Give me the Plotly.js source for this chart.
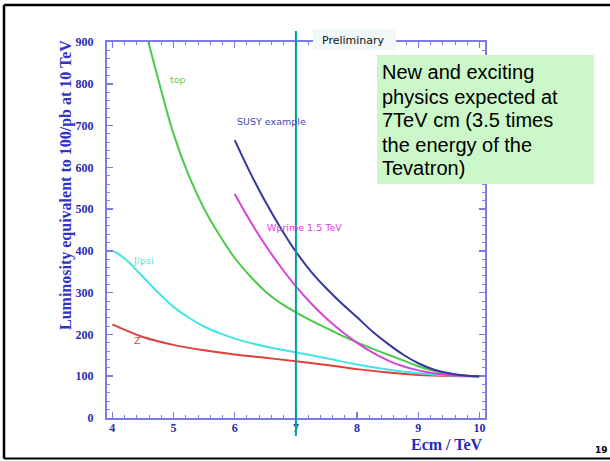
<!DOCTYPE html>
<html>
<head>
<meta charset="utf-8">
<script src="https://cdn.plot.ly/plotly-3.0.1.min.js"></script>
<style>html,body{margin:0;padding:0;background:#fff;}#chart{width:610px;height:461px;}</style>
</head>
<body>
<div id="chart"></div>
<script>
// ---- data ----
const topX   = [4.59, 4.75, 5.0, 5.25, 5.5, 5.75, 6.0, 6.25, 6.5, 6.75, 7.0, 7.25, 7.5, 7.75, 8.0, 8.25, 8.5, 8.75, 9.0, 9.25, 9.5, 9.75, 10];
const topY   = [900, 811, 680, 580, 501, 438, 383, 340, 303, 275, 253, 233, 215, 197, 181, 166, 152, 138, 124, 113, 106, 102, 100];
const susyX  = [6.0, 6.25, 6.5, 6.75, 7.0, 7.25, 7.5, 7.75, 8.0, 8.25, 8.5, 8.75, 9.0, 9.25, 9.5, 9.75, 10];
const susyY  = [665, 588, 518, 455, 398, 350, 310, 274, 241, 207, 178, 152, 131, 116, 107, 102, 100];
const wpX    = [6.0, 6.25, 6.5, 6.75, 7.0, 7.25, 7.5, 7.75, 8.0, 8.25, 8.5, 8.75, 9.0, 9.25, 9.5, 9.75, 10];
const wpY    = [536, 472, 414, 362, 315, 274, 238, 207, 180, 157, 138, 124, 114, 107, 103, 101, 100];
const jpsiX  = [4.0, 4.1, 4.25, 4.5, 4.75, 5.0, 5.25, 5.5, 5.75, 6.0, 6.5, 7.0, 7.5, 8.0, 8.5, 9.0, 9.5, 10];
const jpsiY  = [400, 393, 375, 338, 300, 266, 240, 219, 203, 190, 171, 157, 143, 128, 116, 107, 102, 100];
const zX     = [4.0, 4.5, 5.0, 5.5, 6.0, 6.5, 7.0, 7.5, 8.0, 8.5, 9.0, 9.5, 10];
const zY     = [224, 194, 175, 162, 152, 144, 136, 127, 117, 109, 103, 100.5, 100];
const markerEnergy = 7;
const seriesNames = ["top", "SUSY example", "Wprime 1.5 TeV", "J/psi", "Z"];
const boxLines = ["New and exciting", "physics expected at", "7TeV cm (3.5 times", "the energy of the", "Tevatron)"];

const axisCol = "#7b7be6";
const tickFont = {family: "Liberation Serif, Times New Roman, serif", size: 12, color: "#2a2ab0", weight: "bold"};

function tr(x, y, col, name) {
  return {x: x, y: y, type: "scatter", mode: "lines", name: name,
    line: {color: col, width: 2, shape: "spline", smoothing: 1}, hoverinfo: "skip"};
}
const data = [
  tr(zX, zY, "#e0403c", seriesNames[4]),
  tr(jpsiX, jpsiY, "#44e4e4", seriesNames[3]),
  tr(topX, topY, "#48cc48", seriesNames[0]),
  tr(wpX, wpY, "#d844d8", seriesNames[2]),
  tr(susyX, susyY, "#3636a0", seriesNames[1])
];

function lab(text, x, y, col) {
  return {text: text, x: x, y: y, xref: "x", yref: "y", xanchor: "left", yanchor: "middle",
    showarrow: false, font: {family: "DejaVu Sans, sans-serif", size: 9.5, color: col}};
}

const boxLineY = [0.921, 0.8545, 0.7926, 0.726, 0.6641];
const boxAnnots = boxLines.map((t, i) => ({
  text: t, xref: "paper", yref: "paper", x: 0.7209, y: boxLineY[i], xanchor: "left", yanchor: "middle",
  align: "left", showarrow: false, font: {family: "Liberation Sans, Arial, sans-serif", size: 20, color: "#000"}
}));

const layout = {
  width: 610, height: 461,
  margin: {l: 107, r: 125, t: 42, b: 43, pad: 0},
  paper_bgcolor: "#ffffff", plot_bgcolor: "#ffffff",
  showlegend: false,
  xaxis: {
    range: [3.913, 10.09], dtick: 1, tick0: 0,
    showline: true, linecolor: axisCol, linewidth: 2, mirror: "ticks",
    ticks: "inside", ticklen: 6, tickwidth: 1.5, tickcolor: axisCol,
    minor: {dtick: 0.2, ticks: "inside", ticklen: 3, tickwidth: 1, tickcolor: axisCol},
    showgrid: false, zeroline: false, tickfont: tickFont, ticklabelstandoff: -2
  },
  yaxis: {
    range: [0, 900], dtick: 100, tick0: 0,
    showline: true, linecolor: axisCol, linewidth: 2, mirror: "ticks",
    ticks: "inside", ticklen: 6, tickwidth: 1.5, tickcolor: axisCol,
    minor: {dtick: 20, ticks: "inside", ticklen: 3, tickwidth: 1, tickcolor: axisCol},
    showgrid: false, zeroline: false, tickfont: tickFont, ticklabelstandoff: 9
  },
  shapes: [
    // slide frame
    {type: "line", xref: "paper", yref: "paper", x0: -0.2725, x1: 1.36, y0: 1.0984, y1: 1.0984, line: {color: "#000", width: 2.5}, layer: "above"},
    {type: "line", xref: "paper", yref: "paper", x0: -0.2725, x1: -0.2725, y0: 1.0984, y1: -0.1077, line: {color: "#000", width: 2.5}, layer: "above"},
    {type: "line", xref: "paper", yref: "paper", x0: -0.2725, x1: 1.36, y0: -0.1077, y1: -0.1077, line: {color: "#000", width: 2}, layer: "above"},
    // Preliminary box
    {type: "rect", xref: "paper", yref: "paper", x0: 0.545, x1: 0.7646, y0: 0.9787, y1: 1.0346, fillcolor: "#f1f8f8", line: {width: 0}, layer: "above"},
    // green text box
    {type: "rect", xref: "paper", yref: "paper", x0: 0.7143, x1: 1.2884, y0: 0.6223, y1: 0.9654, fillcolor: "#ccf7c8", line: {width: 0}, layer: "above"},
    // vertical 7 TeV line
    {type: "line", xref: "x", yref: "paper", x0: markerEnergy, x1: markerEnergy, y0: -0.048, y1: 1.029, line: {color: "#009e9e", width: 2}, layer: "above"}
  ],
  annotations: [
    lab(seriesNames[0], 4.91, 810, "#55d455"),
    lab(seriesNames[1], 6.0, 709, "#4646b4"),
    lab(seriesNames[2], 6.49, 456, "#e040e0"),
    lab(seriesNames[3], 4.30, 378, "#55e0e0"),
    lab(seriesNames[4], 4.32, 186, "#e04848"),
    {text: "Luminosity equivalent to 100/pb at 10 TeV", xref: "paper", yref: "paper", x: -0.1085, y: 0.6197,
      textangle: -90, showarrow: false, xanchor: "center", yanchor: "middle",
      font: {family: "Liberation Serif, Times New Roman, serif", size: 16, color: "#3232c4", weight: "bold"}},
    {text: "Ecm / TeV", xref: "paper", yref: "paper", x: 1.0, y: -0.0705, xanchor: "right", yanchor: "middle",
      showarrow: false, font: {family: "Liberation Serif, Times New Roman, serif", size: 16, color: "#2a2ab8", weight: "bold"}},
    {text: "Preliminary", xref: "paper", yref: "paper", x: 0.6534, y: 1.0053, xanchor: "center", yanchor: "middle",
      showarrow: false, font: {family: "DejaVu Sans, sans-serif", size: 11, color: "#111"}},
    ...boxAnnots,
    {text: "19", xref: "paper", yref: "paper", x: 1.3069, y: -0.0851, xanchor: "center", yanchor: "middle",
      showarrow: false, font: {family: "DejaVu Sans, sans-serif", size: 9, color: "#000", weight: "bold"}}
  ]
};

Plotly.newPlot("chart", data, layout, {staticPlot: true, displayModeBar: false});
</script>
</body>
</html>
